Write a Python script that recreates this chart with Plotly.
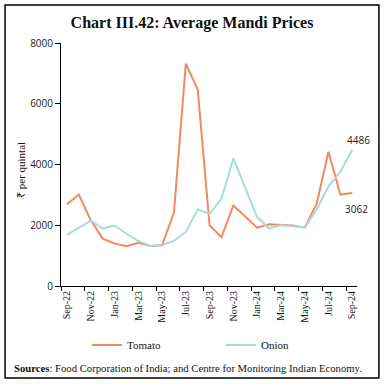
import plotly.graph_objects as go

months = ["Sep-22", "Oct-22", "Nov-22", "Dec-22", "Jan-23", "Feb-23", "Mar-23", "Apr-23",
          "May-23", "Jun-23", "Jul-23", "Aug-23", "Sep-23", "Oct-23", "Nov-23", "Dec-23",
          "Jan-24", "Feb-24", "Mar-24", "Apr-24", "May-24", "Jun-24", "Jul-24", "Aug-24", "Sep-24"]
tomato = [2690, 3010, 2170, 1560, 1400, 1310, 1420, 1320, 1340, 2420, 7320, 6470, 2000,
          1610, 2650, 2290, 1920, 2030, 2020, 1990, 1920, 2700, 4420, 3010, 3062]
onion = [1680, 1920, 2150, 1890, 1990, 1720, 1480, 1320, 1340, 1490, 1780, 2520, 2380,
         2880, 4200, 3230, 2270, 1900, 2000, 1970, 1930, 2510, 3280, 3760, 4486]
y_ticks = [0, 2000, 4000, 6000, 8000]

idx = list(range(len(months)))
label_idx = idx[::2]
label_txt = months[::2]
bound_idx = [i - 0.5 for i in label_idx]

TOMATO = "#F4895F"
ONION = "#A6DCD9"
SERIF = "Liberation Serif"
SANS = "Open Sans"

fig = go.Figure()
fig.add_trace(go.Scatter(x=idx, y=tomato, mode="lines", name="Tomato", legend="legend",
                         line=dict(color=TOMATO, width=2)))
fig.add_trace(go.Scatter(x=idx, y=onion, mode="lines", name="Onion", legend="legend2",
                         line=dict(color=ONION, width=2)))
# invisible helper trace to activate the tick-mark axis
fig.add_trace(go.Scatter(x=idx, y=onion, mode="lines", xaxis="x2", showlegend=False,
                         hoverinfo="skip", line=dict(color="rgba(0,0,0,0)", width=0)))

fig.add_annotation(x=idx[-1], y=onion[-1], text=str(onion[-1]), showarrow=False,
                   xshift=6, yshift=10, font=dict(family=SANS, size=10, color="#222"))
fig.add_annotation(x=idx[-1], y=tomato[-1], text=str(tomato[-1]), showarrow=False,
                   xshift=4, yshift=-16, font=dict(family=SANS, size=10, color="#222"))

fig.add_annotation(xref="paper", yref="paper", x=(21 - 61) / 296, y=(286 - 170) / 243,
                   xanchor="center", yanchor="middle", textangle=-90, showarrow=False,
                   text="₹ per quintal", font=dict(family=SERIF, size=11, color="#111"))

fig.add_annotation(xref="paper", yref="paper", x=-0.165, y=-0.337, xanchor="left",
                   yanchor="middle", showarrow=False,
                   text="<b>Sources</b>: Food Corporation of India; and Centre for Monitoring Indian Economy.",
                   font=dict(family=SERIF, size=10.7, color="#111"))

fig.add_shape(type="rect", xref="paper", yref="paper", x0=-0.189, x1=1.074,
              y0=-0.379, y1=1.156, line=dict(color="black", width=1.5), layer="above")

legend_common = dict(orientation="h", yanchor="middle", xanchor="left", y=(286 - 345) / 243,
                     font=dict(family=SERIF, size=11, color="#111"), bgcolor="rgba(0,0,0,0)")

fig.update_layout(
    width=384, height=386,
    margin=dict(l=61, r=27, t=43, b=100),
    paper_bgcolor="white", plot_bgcolor="white",
    title=dict(text="<b>Chart III.42: Average Mandi Prices</b>", x=0.5, xanchor="center",
               y=1 - 22 / 386, yanchor="middle", yref="container",
               font=dict(family=SERIF, size=16, color="#111")),
    showlegend=True,
    legend=dict(x=(87 - 61) / 296, **legend_common),
    legend2=dict(x=(221 - 61) / 296, **legend_common),
    xaxis=dict(range=[-0.5, 24.4], tickvals=label_idx, ticktext=label_txt, tickangle=-90,
               ticks="", showline=True, linecolor="black", linewidth=1, showgrid=False,
               zeroline=False, automargin=False,
               tickfont=dict(family=SERIF, size=10, color="#111")),
    xaxis2=dict(overlaying="x", matches="x", anchor="y", side="bottom", tickvals=bound_idx,
                ticks="outside", ticklen=4, tickcolor="black", showticklabels=False,
                showline=False, showgrid=False, zeroline=False),
    yaxis=dict(range=[0, 8000], tickvals=y_ticks, ticks="outside", ticklen=5,
               tickcolor="black", showline=True, linecolor="black", linewidth=1,
               showgrid=False, zeroline=False, automargin=False,
               tickfont=dict(family=SANS, size=10, color="#222")),
)

fig.write_html("out.html", config={"displayModeBar": False},
               post_script="document.body.style.margin='0';")
